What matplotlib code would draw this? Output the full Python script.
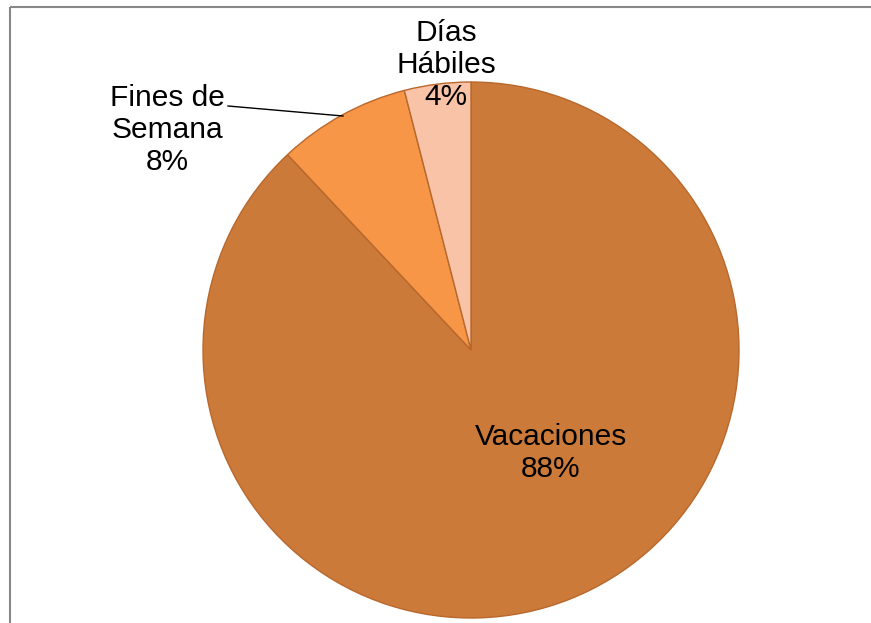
import matplotlib
matplotlib.use("Agg")
import matplotlib.pyplot as plt

categories = ["Vacaciones", "Fines de\nSemana", "Días\nHábiles"]
values = [88, 8, 4]
colors = ["#CB7A3A", "#F79646", "#F9C3A8"]

W, H = 871, 623
fig = plt.figure(figsize=(W / 100, H / 100), dpi=100)
ax = fig.add_axes([0, 0, 1, 1])
ax.set_xlim(0, W)
ax.set_ylim(0, H)
ax.set_aspect("equal")
ax.axis("off")

cx, cy, r = 471, H - 350, 268
wedges, _ = ax.pie(values, colors=colors, startangle=90, counterclock=False,
                   center=(cx, cy), radius=r, frame=True,
                   wedgeprops=dict(edgecolor="#B8682C", linewidth=1.0))
ax.set_xlim(0, W)
ax.set_ylim(0, H)
ax.axis("off")

font = dict(family=["Liberation Sans", "DejaVu Sans"], fontsize=21.5, color="black",
            ha="center", va="center", linespacing=1.18)

labels = [f"{c}\n{v}%" for c, v in zip(categories, values)]
ax.text(551, H - 453, labels[0], **font)
ax.text(167, H - 130, labels[1], **font)
ax.text(446, H - 65, labels[2], **font)

# leader line for Fines de Semana
ax.plot([228, 343], [H - 106, H - 116], color="black", lw=1.0)

# chart border (top and left visible)
ax.plot([9.5, W + 5], [H - 6.5, H - 6.5], color="#888888", lw=1.5, solid_capstyle="butt")
ax.plot([9.5, 9.5], [H - 6.5, -5], color="#888888", lw=1.5, solid_capstyle="butt")

fig.savefig("out.png", dpi=100)
